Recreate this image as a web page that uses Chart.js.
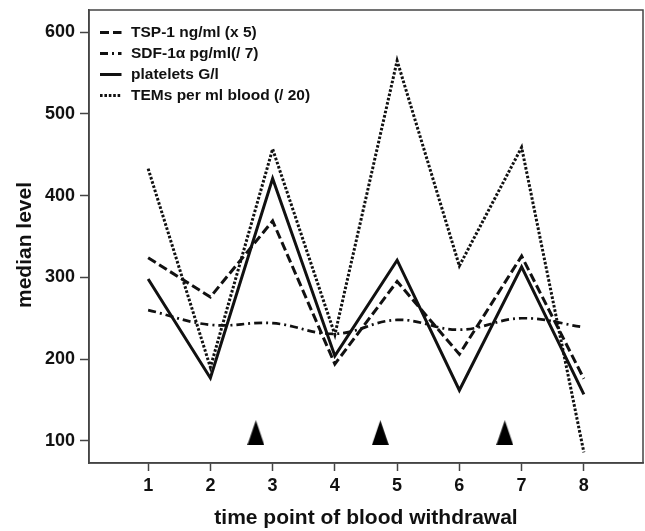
<!DOCTYPE html>
<html>
<head>
<meta charset="utf-8">
<script src="https://cdn.jsdelivr.net/npm/chart.js@4/dist/chart.umd.min.js"></script>
<style>
  html, body { margin: 0; padding: 0; background: #fff; }
  #wrap { width: 645px; height: 531px; }
</style>
</head>
<body>
<div id="wrap"><canvas id="medianChart"></canvas></div>
<script>
// ==================== Data ====================
const timePoints = [1, 2, 3, 4, 5, 6, 7, 8];
const tspValues = [324, 276, 369, 194, 295, 206, 326, 176];
const sdfValues = [260, 242, 244, 231, 248, 236, 250, 239];
const plateletValues = [298, 177, 421, 204, 321, 162, 313, 157];
const temValues = [433, 190, 457, 230, 565, 314, 459, 86];
const seriesNames = ['TSP-1 ng/ml (x 5)', 'SDF-1\u03b1 pg/ml(/ 7)', 'platelets G/l', 'TEMs per ml blood (/ 20)'];

// therapy markers (arrowheads)
const markerX = [2.73, 4.73, 6.73];
const markerY = [110, 110, 110];

const yTicks = [100, 200, 300, 400, 500, 600];
const yTitle = 'median level';
const xTitle = 'time point of blood withdrawal';

// ==================== Helpers ====================
const INK = '#111';
const FRAME = '#444';
const FONT = 'Liberation Sans, Arial, sans-serif';

function toPoints(values) {
  return timePoints.map((t, i) => ({ x: t, y: values[i] }));
}

// narrow filled triangle used as point style
function makeTriangle(w, h) {
  const c = document.createElement('canvas');
  c.width = w;
  c.height = h;
  const g = c.getContext('2d');
  g.fillStyle = '#000';
  g.beginPath();
  g.moveTo(w / 2, 0);
  g.lineTo(w, h);
  g.lineTo(0, h);
  g.closePath();
  g.fill();
  return c;
}

function lineSet(label, values, dash, extra) {
  return Object.assign({
    type: 'line',
    label: label,
    data: toPoints(values),
    borderColor: INK,
    borderWidth: 3,
    borderDash: dash,
    pointRadius: 0,
    fill: false,
    tension: 0
  }, extra || {});
}

// ==================== Plugins ====================
const frameBox = {
  id: 'frameBox',
  afterDraw(chart) {
    const { ctx, chartArea: a } = chart;
    ctx.save();
    ctx.strokeStyle = FRAME;
    ctx.lineWidth = 1.5;
    ctx.strokeRect(a.left, a.top, a.right - a.left, a.bottom - a.top);

    // y title sits a bit below the middle of the axis in the original
    ctx.translate(25, 245);
    ctx.rotate(-Math.PI / 2);
    ctx.font = 'bold 21px ' + FONT;
    ctx.fillStyle = INK;
    ctx.textAlign = 'center';
    ctx.textBaseline = 'middle';
    ctx.fillText(yTitle, 0, 0);
    ctx.restore();
  }
};

const innerLegend = {
  id: 'innerLegend',
  afterDatasetsDraw(chart) {
    const { ctx } = chart;
    const x0 = 100, x1 = 121.5, tx = 131, y0 = 32.5, step = 21;
    ctx.save();
    ctx.font = 'bold 15.5px ' + FONT;
    ctx.textBaseline = 'middle';
    ctx.fillStyle = INK;
    chart.data.datasets.forEach((ds, i) => {
      if (!ds.inLegend) return;
      const y = y0 + i * step;
      ctx.strokeStyle = INK;
      ctx.lineWidth = 3;
      ctx.setLineDash(ds.borderDash || []);
      ctx.beginPath();
      ctx.moveTo(x0, y);
      ctx.lineTo(x1, y);
      ctx.stroke();
      ctx.setLineDash([]);
      ctx.fillText(ds.label, tx, y);
    });
    ctx.restore();
  }
};

// ==================== Chart ====================
const datasets = [
  lineSet(seriesNames[0], tspValues, [9, 4], { inLegend: true }),
  lineSet(seriesNames[1], sdfValues, [8, 4, 2, 4], { inLegend: true, tension: 0.4, borderWidth: 2.7 }),
  lineSet(seriesNames[2], plateletValues, [], { inLegend: true }),
  lineSet(seriesNames[3], temValues, [2.6, 1.8], { inLegend: true }),
  {
    type: 'scatter',
    label: 'markers',
    data: markerX.map((x, i) => ({ x: x, y: markerY[i] })),
    pointStyle: makeTriangle(17, 25),
    pointRadius: 10,
    inLegend: false
  }
];

new Chart(document.getElementById('medianChart'), {
  type: 'line',
  data: { datasets: datasets },
  options: {
    responsive: true,
    maintainAspectRatio: false,
    animation: false,
    events: [],
    layout: { autoPadding: false, padding: { left: 0, right: 2, top: 10, bottom: 0 } },
    plugins: {
      legend: { display: false },
      tooltip: { enabled: false }
    },
    scales: {
      x: {
        type: 'linear',
        min: 0.05,
        max: 8.95,
        afterBuildTicks: s => { s.ticks = timePoints.map(v => ({ value: v })); },
        afterFit: s => { s.height = 68; s.paddingLeft = 0; s.paddingRight = 0; },
        grid: { drawOnChartArea: false, tickLength: 8, tickWidth: 1.5, tickColor: FRAME },
        border: { display: true, color: FRAME, width: 1.5 },
        ticks: {
          color: INK,
          padding: 4,
          font: { family: FONT, size: 18, weight: 'bold' }
        },
        title: {
          display: true,
          text: xTitle,
          color: INK,
          padding: { top: 0, bottom: 0 },
          font: { family: FONT, size: 21, weight: 'bold', lineHeight: 1.2 }
        }
      },
      y: {
        type: 'linear',
        min: 73,
        max: 627,
        afterBuildTicks: s => { s.ticks = yTicks.map(v => ({ value: v })); },
        afterFit: s => { s.width = 89; s.paddingTop = 0; s.paddingBottom = 0; },
        grid: { drawOnChartArea: false, tickLength: 9, tickWidth: 1.5, tickColor: FRAME },
        border: { display: true, color: FRAME, width: 1.5 },
        ticks: {
          color: INK,
          padding: 5,
          font: { family: FONT, size: 18, weight: 'bold' }
        },
        title: { display: false }
      }
    }
  },
  plugins: [frameBox, innerLegend]
});
</script>
</body>
</html>
